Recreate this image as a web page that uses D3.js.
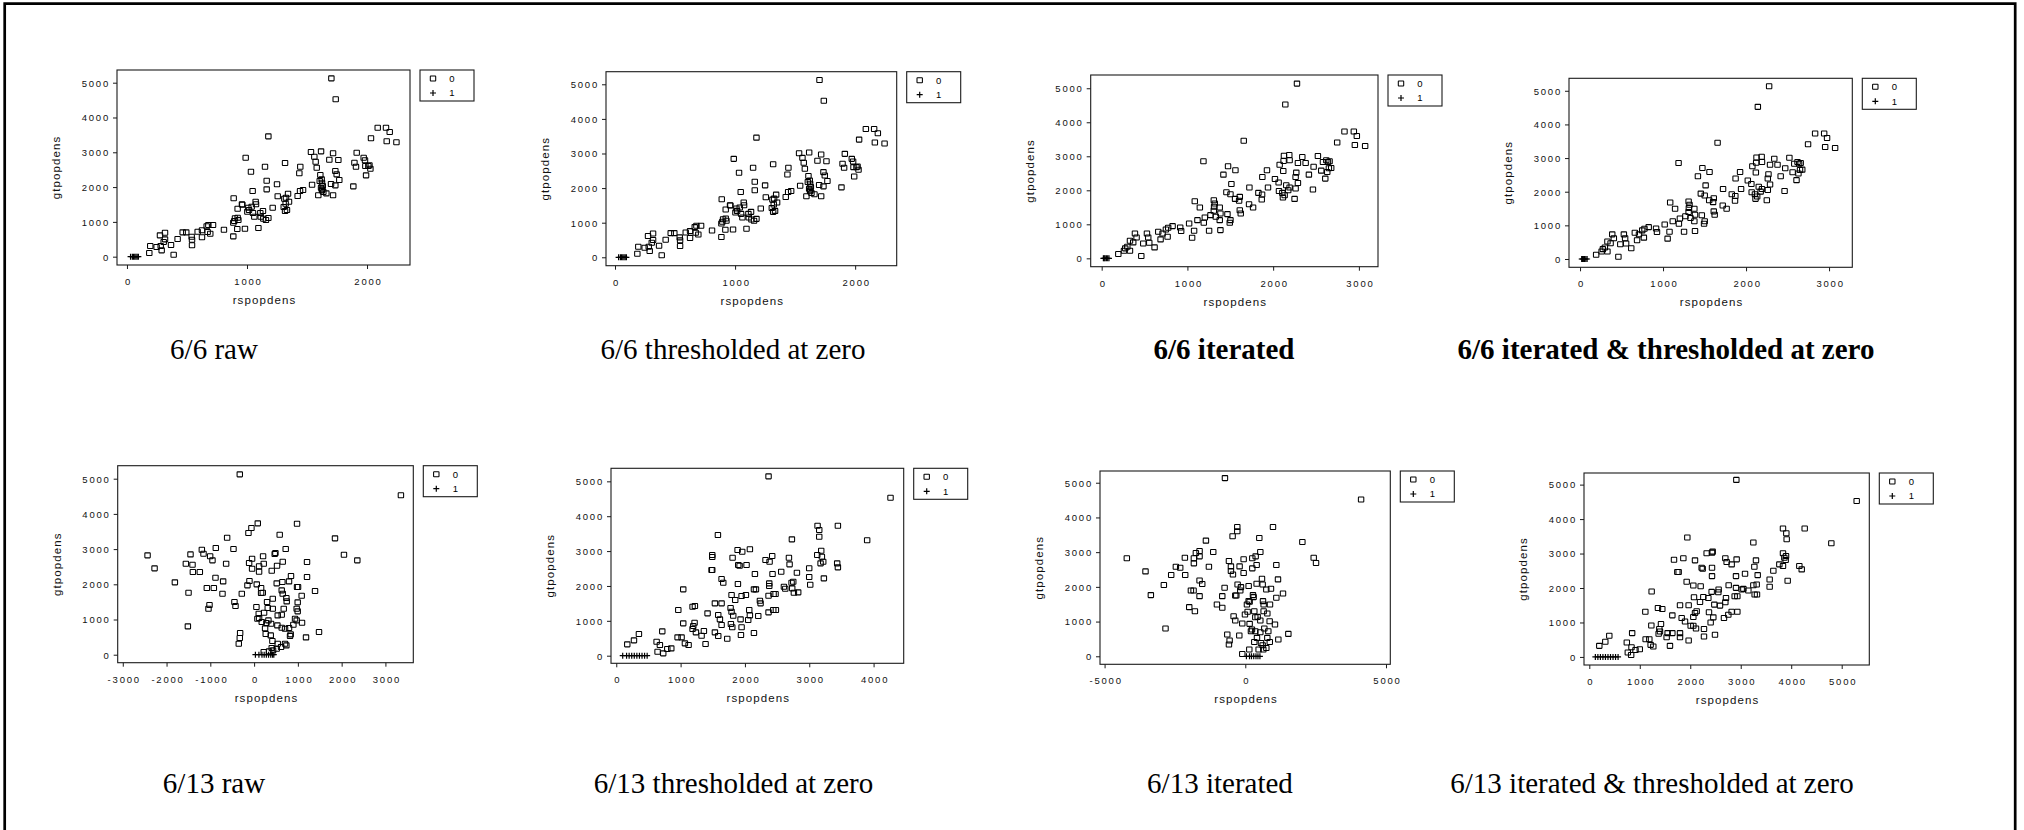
<!DOCTYPE html>
<html>
<head>
<meta charset="utf-8">
<script src="https://cdn.jsdelivr.net/npm/d3@7"></script>
<style>
  html, body { margin: 0; padding: 0; background: #fff; }
  svg { display: block; }
</style>
</head>
<body>
<svg id="chart" width="2024" height="830"></svg>
<script>
// ---- data: [rspopdens, gtpopdens] ----
// class 0 (open squares)
const P66_RAW = [[1703,5125],[1739,4522],[1178,3458],[989,2845],[1033,2443],[1150,2587],[1317,2692],[1444,2587],[1436,2395],[1164,2184],[1164,1935],[1250,2079],[1047,1887],[889,1677],[958,1504],[922,1380],[900,1102],[894,1025],[928,1054],[1017,1341],[1039,1437],[1072,1581],[1075,1504],[1050,1255],[1003,1293],[1061,1150],[1111,1255],[1133,1313],[1114,1150],[1158,1054],[1178,1111],[1095,824],[983,805],[919,795],[886,584],[1214,1408],[1256,1734],[1311,1667],[1342,1811],[1322,1523],[1350,1581],[1317,1313],[1333,1341],[1422,1744],[1442,1887],[1467,1916],[1542,2069],[1533,3008],[1561,2874],[1572,2730],[1617,3027],[1581,2558],[1611,2347],[1622,2222],[1625,2126],[1631,2031],[1625,1935],[1636,1858],[1594,1763],[1661,1820],[1717,1763],[1686,2788],[1717,2970],[1761,2778],[1736,2462],[1747,2366],[1769,2203],[1736,2050],[1700,2088],[1886,2021],[1914,2989],[1895,2701],[1908,2587],[1972,2845],[1983,2769],[1986,2606],[1992,2337],[2020,2625],[2028,2529],[2033,3401],[2089,3707],[2158,3707],[2189,3583],[2164,3315],[2245,3286],[2011,2606],[186,105],[194,307],[247,278],[281,307],[289,182],[317,690],[275,613],[317,498],[306,422],[367,335],[389,57],[422,508],[464,699],[494,699],[539,575],[542,489],[542,326],[589,719],[625,757],[625,556],[664,872],[678,910],[672,709],[694,661],[717,910],[808,776],[886,977],[922,1121],[961,1495],[1011,1408],[1136,1092],[1306,1427],[1325,1696],[1606,2174],[1617,1983],[1625,1906]];

const P66_ITER = [[2278,5137],[2142,4522],[1657,3457],[1187,2852],[2832,3731],[2941,3731],[2976,3594],[2747,3408],[2953,3330],[3073,3301],[1474,2705],[1420,2461],[1560,2588],[1513,2188],[1455,1943],[1502,1885],[1723,2080],[1556,1748],[1611,1807],[1603,1690],[1611,1416],[1622,1318],[1719,1592],[1766,1494],[1828,1924],[1871,1875],[1867,1729],[1928,2588],[1874,2393],[1940,2080],[2021,2334],[2064,2227],[2076,2754],[2122,2861],[2126,3018],[2188,3037],[2192,2881],[2118,2568],[2068,1982],[2107,1924],[2134,1856],[2114,1787],[2192,2080],[2153,2148],[2176,2002],[2250,1748],[2262,2051],[2262,2393],[2270,2520],[2289,2803],[2289,2217],[2379,2803],[2340,2979],[2417,2461],[2472,2695],[2464,2022],[2522,3008],[2581,2832],[2561,2578],[2608,2344],[2631,2539],[2620,2881],[2658,2852],[2650,2647],[2677,2656],[2639,2832],[1086,1680],[1145,1494],[1117,1123],[1191,1045],[1203,1201],[1253,811],[1269,1270],[1311,1514],[1319,1611],[1308,1397],[1331,1221],[1377,1494],[1385,1318],[1377,1123],[1385,830],[1467,1299],[1494,1045],[1502,1123],[1308,1709],[1020,1025],[1055,605],[1078,811],[927,801],[916,908],[827,947],[776,898],[769,635],[749,850],[687,557],[660,781],[710,732],[617,322],[543,615],[528,732],[555,459],[485,439],[462,68],[388,732],[407,615],[368,469],[330,518],[299,342],[330,225],[275,293],[260,225],[194,127]];

const P613_RAW = [[-327,5123],[3354,4527],[-2434,2822],[-2274,2453],[-1810,2055],[-1498,1761],[-1513,805],[-1453,2850],[-1559,2585],[-1407,2557],[-1399,2349],[-1240,2349],[-1194,2983],[-1156,2869],[-1004,2794],[-951,2680],[-875,3030],[-882,2188],[-1080,1894],[-920,1894],[-1019,1411],[-1042,1307],[-707,2083],[-722,1733],[-616,3324],[-639,2585],[-471,3002],[-449,1496],[-425,1383],[-281,1733],[-319,616],[-327,474],[-350,313],[-129,3457],[-61,3599],[84,3731],[-106,2093],[-152,1970],[61,1998],[-46,2727],[-114,2604],[-46,2443],[114,2358],[114,2510],[205,2794],[220,2585],[403,2386],[471,2860],[487,2888],[524,2528],[654,2642],[722,3002],[585,3409],[981,3722],[1209,2633],[1209,2207],[1848,3305],[2053,2841],[2358,2680],[1392,1809],[1483,644],[1186,492],[981,1922],[1004,1922],[1087,1676],[996,1487],[973,1307],[935,1023],[996,1231],[798,2083],[843,2235],[646,2064],[517,2027],[160,1894],[160,1752],[198,1761],[53,1354],[106,1165],[76,1023],[228,1193],[296,1496],[426,1591],[631,1828],[654,1733],[737,1610],[745,1515],[677,1307],[540,1117],[631,1136],[532,833],[631,767],[707,739],[798,758],[836,578],[821,530],[897,852],[973,975],[1095,909],[281,900],[251,748],[266,587],[380,549],[418,388],[540,313],[707,313],[737,265],[616,218],[517,170],[403,189],[433,123],[342,95],[220,76],[327,975],[388,881],[175,928],[114,1042],[312,1326],[426,1307]];

const P613_THR = [[2367,5143],[4263,4531],[3900,3308],[3445,3728],[3129,3728],[3155,3604],[3155,3413],[3186,3011],[3124,2887],[3196,2839],[3176,2648],[3217,2696],[3434,2648],[3445,2533],[3227,2218],[2999,2505],[2999,2256],[3015,2036],[2730,3336],[2684,2811],[2694,2619],[2808,2380],[2564,2409],[2606,1979],[2627,1922],[2725,2094],[2751,2122],[2735,1931],[2761,1807],[2828,1816],[2424,2858],[2383,2696],[2320,2744],[2429,2342],[2378,2074],[2378,1998],[2367,1721],[2445,1769],[2476,1769],[2367,1243],[2440,1310],[2481,1310],[2233,1577],[2243,1501],[2207,1138],[2140,1902],[2171,1902],[2155,2342],[2140,650],[2077,3050],[2025,2600],[1958,2983],[1886,3030],[1896,2600],[1917,2581],[1808,2811],[1891,2055],[2015,1740],[1948,1711],[2067,1310],[2051,1023],[2077,1157],[1849,1597],[1792,1740],[1777,1367],[1792,1262],[1818,1147],[1782,908],[1803,813],[1932,1042],[1948,813],[1938,593],[1725,488],[1637,880],[1611,1042],[1585,1166],[1533,1501],[1637,1501],[1663,2094],[1637,2199],[1580,3461],[1492,2887],[1492,2830],[1481,2457],[1492,2457],[1419,1214],[1388,335],[1362,707],[1326,574],[1238,669],[1217,946],[1186,765],[1197,851],[1222,1424],[1186,1405],[1041,1902],[964,1310],[1041,927],[1015,526],[953,526],[1067,354],[1124,306],[855,210],[793,191],[730,67],[715,698],[678,306],[627,402],[642,115],[352,621],[275,440],[171,325],[1533,669],[1585,564]];

const P613_ITER = [[-723,5133],[4115,4516],[-4210,2822],[-3546,2446],[-3356,1762],[-2835,799],[-2894,2051],[-2633,2340],[-2467,2581],[-2313,2552],[-2135,2340],[-2147,2841],[-1827,2822],[-1827,2677],[-1756,2976],[-1625,3033],[-1625,2879],[-1399,3332],[-1139,3005],[-1293,2581],[-1625,2186],[-1530,2080],[-1933,1897],[-1838,1897],[-1625,1733],[-1992,1416],[-1791,1300],[-1008,1493],[-818,1396],[-735,1974],[-818,1733],[-356,1753],[-320,1753],[-581,2745],[-510,2590],[-510,2456],[-439,2359],[-285,3727],[-285,3602],[-451,3457],[-202,2590],[-59,2793],[-59,2398],[-273,2070],[-154,1993],[-178,1897],[119,2022],[249,2822],[249,2533],[368,2879],[403,2629],[498,3409],[534,3005],[984,3727],[1103,2629],[1162,2215],[913,1945],[747,1925],[617,2070],[593,2234],[403,2090],[296,1705],[154,1570],[59,1493],[273,1762],[629,1589],[878,1493],[1103,1685],[1340,1810],[2028,3293],[2431,2841],[2514,2687],[83,1281],[320,1300],[356,1127],[439,1136],[534,1030],[652,1300],[783,1233],[652,1493],[-415,1156],[-356,1030],[-107,944],[154,934],[237,770],[201,722],[356,722],[534,693],[676,799],[818,722],[866,1011],[1055,915],[1174,482],[1530,645],[415,530],[557,385],[617,318],[747,241],[783,530],[870,414],[640,193],[474,193],[320,414],[-640,626],[-557,453],[-581,337],[-213,597],[-107,67],[142,193],[119,1589],[-12,1204]];

const P613_ITER_THR = [[2913,5137],[5297,4524],[4795,3298],[4267,3727],[3837,3727],[3903,3590],[3910,3415],[3837,3007],[3864,2880],[3890,2812],[3897,2929],[3765,2685],[3837,2637],[3646,2501],[4161,2637],[4208,2540],[3930,2209],[3573,2248],[3573,2034],[3250,3318],[3270,2617],[3302,2802],[3336,2374],[3316,2102],[3250,2082],[3276,1810],[3322,1810],[3085,2413],[3151,1927],[3019,1956],[3052,1975],[2919,2831],[2906,2345],[2906,2004],[2880,1761],[2933,1761],[2933,1313],[2820,2685],[2721,2754],[2695,2861],[2761,2082],[2708,1712],[2695,1586],[2754,1226],[2820,1313],[2668,1129],[2589,1489],[2562,1956],[2556,1878],[2477,1518],[2424,1888],[2457,1148],[2404,1002],[2490,642],[2431,3026],[2444,3055],[2431,2588],[2431,2345],[2325,3007],[2371,1294],[2358,1712],[2259,1741],[2226,2588],[2246,2559],[2206,2053],[2193,1596],[2272,594],[2272,808],[2094,2802],[2061,2072],[2074,1732],[2061,1158],[2061,905],[2127,1323],[2094,1274],[2114,827],[1942,3464],[1929,2179],[1968,1498],[2008,905],[1896,1031],[1830,1129],[1797,1498],[1797,691],[1797,574],[1968,477],[1863,2861],[1678,2822],[1744,2462],[1770,2462],[1645,1206],[1645,691],[1598,321],[1532,574],[1552,691],[1400,739],[1374,671],[1387,808],[1420,954],[1446,1391],[1360,1420],[1229,915],[1235,1897],[1110,1313],[1116,516],[1189,516],[1215,350],[1268,302],[1000,224],[915,204],[836,282],[849,691],[829,58],[763,126],[743,418],[396,613],[317,438],[198,321]];

// class 1 (plus signs), all sitting at gtpopdens ~ 0
const P66_RAW_PLUS = [[30,0],[45,0],[55,0],[65,0],[75,0],[85,0],[95,0]];
const P66_ITER_PLUS = [[20,0],[30,0],[40,0],[55,0],[70,0],[85,0]];
const P613_RAW_PLUS = [[30,0],[110,0],[180,0],[230,0],[280,0],[330,0],[380,0],[420,0],[450,0]];
const P613_THR_PLUS = [[100,0],[160,0],[200,0],[240,0],[280,0],[320,0],[360,0],[400,0],[440,0],[480,0]];
const P613_ITER_PLUS = [[40,0],[150,0],[220,0],[300,0],[380,0],[450,0],[520,0]];
const P613_ITER_THR_PLUS = [[120,0],[170,0],[220,0],[270,0],[320,0],[370,0],[420,0],[470,0],[520,0],[570,0]];

// tick labels
const Y_TICKS = [0, 1000, 2000, 3000, 4000, 5000];
const X_TICKS_66_RAW = [0, 1000, 2000];
const X_TICKS_66_ITER = [0, 1000, 2000, 3000];
const X_TICKS_613_RAW = [-3000, -2000, -1000, 0, 1000, 2000, 3000];
const X_TICKS_613_THR = [0, 1000, 2000, 3000, 4000];
const X_TICKS_613_ITER = [-5000, 0, 5000];
const X_TICKS_613_ITER_THR = [0, 1000, 2000, 3000, 4000, 5000];

const CAPTIONS = [
  "6/6 raw", "6/6 thresholded at zero", "6/6 iterated", "6/6 iterated & thresholded at zero",
  "6/13 raw", "6/13 thresholded at zero", "6/13 iterated", "6/13 iterated & thresholded at zero"
];
const LEGEND_LABELS = ["0", "1"];

// ---- layout (plot box in px, axis limits, caption centre) ----
const panels = [
  { cap: 0, bold: false, pts: P66_RAW, plus: P66_RAW_PLUS, xTicks: X_TICKS_66_RAW,
    box: [117, 70, 410, 265], xDom: [-83, 2358], yDom: [-239, 5365], capX: 214, capY: 359 },
  { cap: 1, bold: false, pts: P66_RAW, plus: P66_RAW_PLUS, xTicks: X_TICKS_66_RAW,
    box: [606, 71.7, 896.7, 265.7], xDom: [-75, 2346], yDom: [-243, 5364], capX: 733, capY: 359 },
  { cap: 2, bold: true, pts: P66_ITER, plus: P66_ITER_PLUS, xTicks: X_TICKS_66_ITER,
    box: [1090.7, 75, 1378, 266.7], xDom: [-128, 3223], yDom: [-246, 5390], capX: 1224, capY: 359 },
  { cap: 3, bold: true, pts: P66_ITER, plus: P66_ITER_PLUS, xTicks: X_TICKS_66_ITER,
    box: [1569, 78.3, 1852.3, 267.3], xDom: [-133, 3280], yDom: [-247, 5371], capX: 1666, capY: 359 },
  { cap: 4, bold: false, pts: P613_RAW, plus: P613_RAW_PLUS, xTicks: X_TICKS_613_RAW,
    box: [117.7, 465.7, 413.3, 662.7], xDom: [-3116, 3637], yDom: [-227, 5369], capX: 214, capY: 792.5 },
  { cap: 5, bold: false, pts: P613_THR, plus: P613_THR_PLUS, xTicks: X_TICKS_613_THR,
    box: [611, 468.3, 903.7, 663.3], xDom: [-82, 4468], yDom: [-218, 5374], capX: 733.5, capY: 792.5 },
  { cap: 6, bold: false, pts: P613_ITER, plus: P613_ITER_PLUS, xTicks: X_TICKS_613_ITER,
    box: [1100, 471, 1390.3, 664.3], xDom: [-5163, 5153], yDom: [-231, 5338], capX: 1220, capY: 792.5 },
  { cap: 7, bold: false, pts: P613_ITER_THR, plus: P613_ITER_THR_PLUS, xTicks: X_TICKS_613_ITER_THR,
    box: [1584, 473, 1869.3, 665], xDom: [-105, 5547], yDom: [-234, 5337], capX: 1652, capY: 792.5 }
];

const SANS = "'Liberation Sans', Arial, Helvetica, sans-serif";
const SERIF = "'Liberation Serif', 'Times New Roman', Times, serif";
const INK = "#1a1a1a";

const svg = d3.select("#chart");
svg.append("rect").attr("width", 2024).attr("height", 830).attr("fill", "#fff");

// outer frame: top, left and right edges only
svg.append("path")
  .attr("d", "M4.7,830V3.7H2015.2V830")
  .attr("fill", "none")
  .attr("stroke", "#000")
  .attr("stroke-width", 2.7);

const plusPath = "M-3,0H3M0,-3V3";

function drawPanel(p) {
  const [L, T, R, B] = p.box;
  const x = d3.scaleLinear().domain(p.xDom).range([L, R]);
  const y = d3.scaleLinear().domain(p.yDom).range([B, T]);
  const g = svg.append("g");

  // x axis (R style: ticks hang below the box)
  const gx = g.append("g")
    .attr("transform", `translate(0,${B})`)
    .call(d3.axisBottom(x).tickValues(p.xTicks).tickSize(4).tickFormat((d) => String(d)));
  gx.select(".domain").remove();
  gx.selectAll("line").attr("stroke", INK);
  gx.selectAll("text")
    .attr("y", 20).attr("dy", 0).attr("dx", 1)
    .attr("fill", "#111")
    .style("font-family", SANS).style("font-size", "9.5px").style("letter-spacing", "1.8px");

  // y axis
  const gy = g.append("g")
    .attr("transform", `translate(${L},0)`)
    .call(d3.axisLeft(y).tickValues(Y_TICKS).tickSize(4).tickPadding(3).tickFormat((d) => String(d)));
  gy.select(".domain").remove();
  gy.selectAll("line").attr("stroke", INK);
  gy.selectAll("text")
    .attr("dy", "0.35em")
    .attr("fill", "#111")
    .style("font-family", SANS).style("font-size", "9.5px").style("letter-spacing", "1.8px");

  // plot box
  g.append("rect")
    .attr("x", L).attr("y", T).attr("width", R - L).attr("height", B - T)
    .attr("fill", "none").attr("stroke", INK).attr("stroke-width", 1.1);

  // axis titles
  g.append("text")
    .attr("x", (L + R) / 2 + 1).attr("y", B + 39)
    .attr("text-anchor", "middle")
    .attr("fill", "#111")
    .style("font-family", SANS).style("font-size", "11.5px").style("letter-spacing", "1.1px")
    .text("rspopdens");
  g.append("text")
    .attr("transform", `translate(${L - 57},${(T + B) / 2}) rotate(-90)`)
    .attr("text-anchor", "middle")
    .attr("fill", "#111")
    .style("font-family", SANS).style("font-size", "11.5px").style("letter-spacing", "1.1px")
    .text("gtpopdens");

  // class 0: open squares
  g.append("g")
    .selectAll("rect")
    .data(p.pts)
    .join("rect")
    .attr("x", (d) => x(d[0]) - 2.7)
    .attr("y", (d) => y(d[1]) - 2.5)
    .attr("width", 5.4)
    .attr("height", 5)
    .attr("rx", 0.5)
    .attr("fill", "none")
    .attr("stroke", "#000")
    .attr("stroke-width", 1.05);

  // class 1: plus signs
  g.append("g")
    .selectAll("path")
    .data(p.plus)
    .join("path")
    .attr("transform", (d) => `translate(${x(d[0])},${y(d[1])})`)
    .attr("d", plusPath)
    .attr("fill", "none")
    .attr("stroke", "#000")
    .attr("stroke-width", 1.2);

  // legend
  const lg = g.append("g").attr("transform", `translate(${R + 10},${T})`);
  lg.append("rect")
    .attr("width", 54).attr("height", 31)
    .attr("fill", "#fff").attr("stroke", INK).attr("stroke-width", 1.1);
  lg.append("rect")
    .attr("x", 13 - 2.7).attr("y", 8.5 - 2.5).attr("width", 5.4).attr("height", 5).attr("rx", 0.5)
    .attr("fill", "none").attr("stroke", "#000").attr("stroke-width", 1.05);
  lg.append("path")
    .attr("transform", "translate(13,23)")
    .attr("d", plusPath)
    .attr("fill", "none").attr("stroke", "#000").attr("stroke-width", 1.2);
  lg.selectAll("text")
    .data(LEGEND_LABELS)
    .join("text")
    .attr("x", 32)
    .attr("y", (d, i) => (i === 0 ? 8.5 : 23))
    .attr("dy", "0.35em")
    .attr("text-anchor", "middle")
    .attr("fill", "#000")
    .style("font-family", SANS).style("font-size", "9.5px")
    .text((d) => d);

  // caption under the plot
  svg.append("text")
    .attr("x", p.capX).attr("y", p.capY)
    .attr("text-anchor", "middle")
    .attr("fill", "#000")
    .style("font-family", SERIF)
    .style("font-size", "29px")
    .style("font-weight", p.bold ? "bold" : "normal")
    .text(CAPTIONS[p.cap]);
}

panels.forEach(drawPanel);
</script>
</body>
</html>
